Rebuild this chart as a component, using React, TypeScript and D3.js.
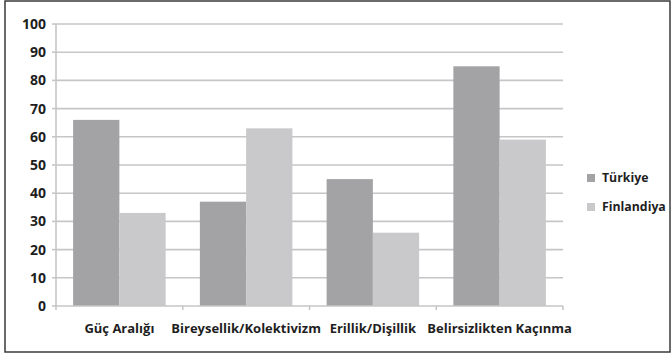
import React from "react";
import * as d3 from "d3";

const categories = ["Güç Aralığı", "Bireysellik/Kolektivizm", "Erillik/Dişillik", "Belirsizlikten Kaçınma"];
const seriesNames = ["Türkiye", "Finlandiya"];
const turkiye = [66, 37, 45, 85];
const finlandiya = [33, 63, 26, 59];
const yTicks = [0, 10, 20, 30, 40, 50, 60, 70, 80, 90, 100];
const colors = ["#a3a3a5", "#c9c9cb"];

export default function App() {
  const W = 672, H = 356;
  const left = 56, right = 563, top = 24, bottom = 306;
  const x = d3.scaleBand<string>().domain(categories).range([left, right]).paddingInner(0).paddingOuter(0);
  const inner = d3.scaleBand<string>().domain(seriesNames).range([0, x.bandwidth()]).paddingInner(0).paddingOuter(0.37);
  const y = d3.scaleLinear().domain([0, 100]).range([bottom, top]);
  const series = [turkiye, finlandiya];
  const font = "'Open Sans', sans-serif";
  const ticksX = categories.map((c) => x(c)!).concat([right]);
  return (
    <svg width={W} height={H} style={{ position: "absolute", left: 0, top: 0, background: "#fff" }}>
      <rect x={5} y={1} width={665} height={351} fill="#fff" stroke="#3a3a3a" strokeWidth={1.5} />
      {yTicks.map((t) => (
        <g key={t}>
          {t > 0 && <line x1={left} x2={right} y1={y(t)} y2={y(t)} stroke="#c6c6c6" strokeWidth={1.6} />}
          <line x1={left - 4} x2={left} y1={y(t)} y2={y(t)} stroke="#c6c6c6" strokeWidth={1.6} />
          <text x={46} y={y(t)} dy="0.35em" textAnchor="end" fontFamily={font} fontWeight={700} fontSize={14} fill="#1e1e1e">{t}</text>
        </g>
      ))}
      {series.map((vals, si) =>
        categories.map((c, ci) => (
          <rect key={si + "-" + ci} x={x(c)! + inner(seriesNames[si])!} y={y(vals[ci])} width={inner.bandwidth()} height={bottom - y(vals[ci])} fill={colors[si]} />
        ))
      )}
      <line x1={left} x2={left} y1={top} y2={bottom} stroke="#c6c6c6" strokeWidth={1.6} />
      <line x1={left} x2={right} y1={bottom} y2={bottom} stroke="#c6c6c6" strokeWidth={1.6} />
      {ticksX.map((tx, i) => (
        <line key={i} x1={tx} x2={tx} y1={bottom} y2={bottom + 4} stroke="#c6c6c6" strokeWidth={1.6} />
      ))}
      {categories.map((c) => (
        <text key={c} x={x(c)! + x.bandwidth() / 2} y={328} dy="0.35em" textAnchor="middle" fontFamily={font} fontWeight={700} fontSize={13} fill="#1e1e1e">{c}</text>
      ))}
      {seriesNames.map((s, i) => (
        <g key={s}>
          <rect x={587} y={174 + i * 29} width={8} height={8} fill={colors[i]} />
          <text x={602} y={178 + i * 29} dy="0.35em" fontFamily={font} fontWeight={700} fontSize={12.3} fill="#1e1e1e">{s}</text>
        </g>
      ))}
    </svg>
  );
}
